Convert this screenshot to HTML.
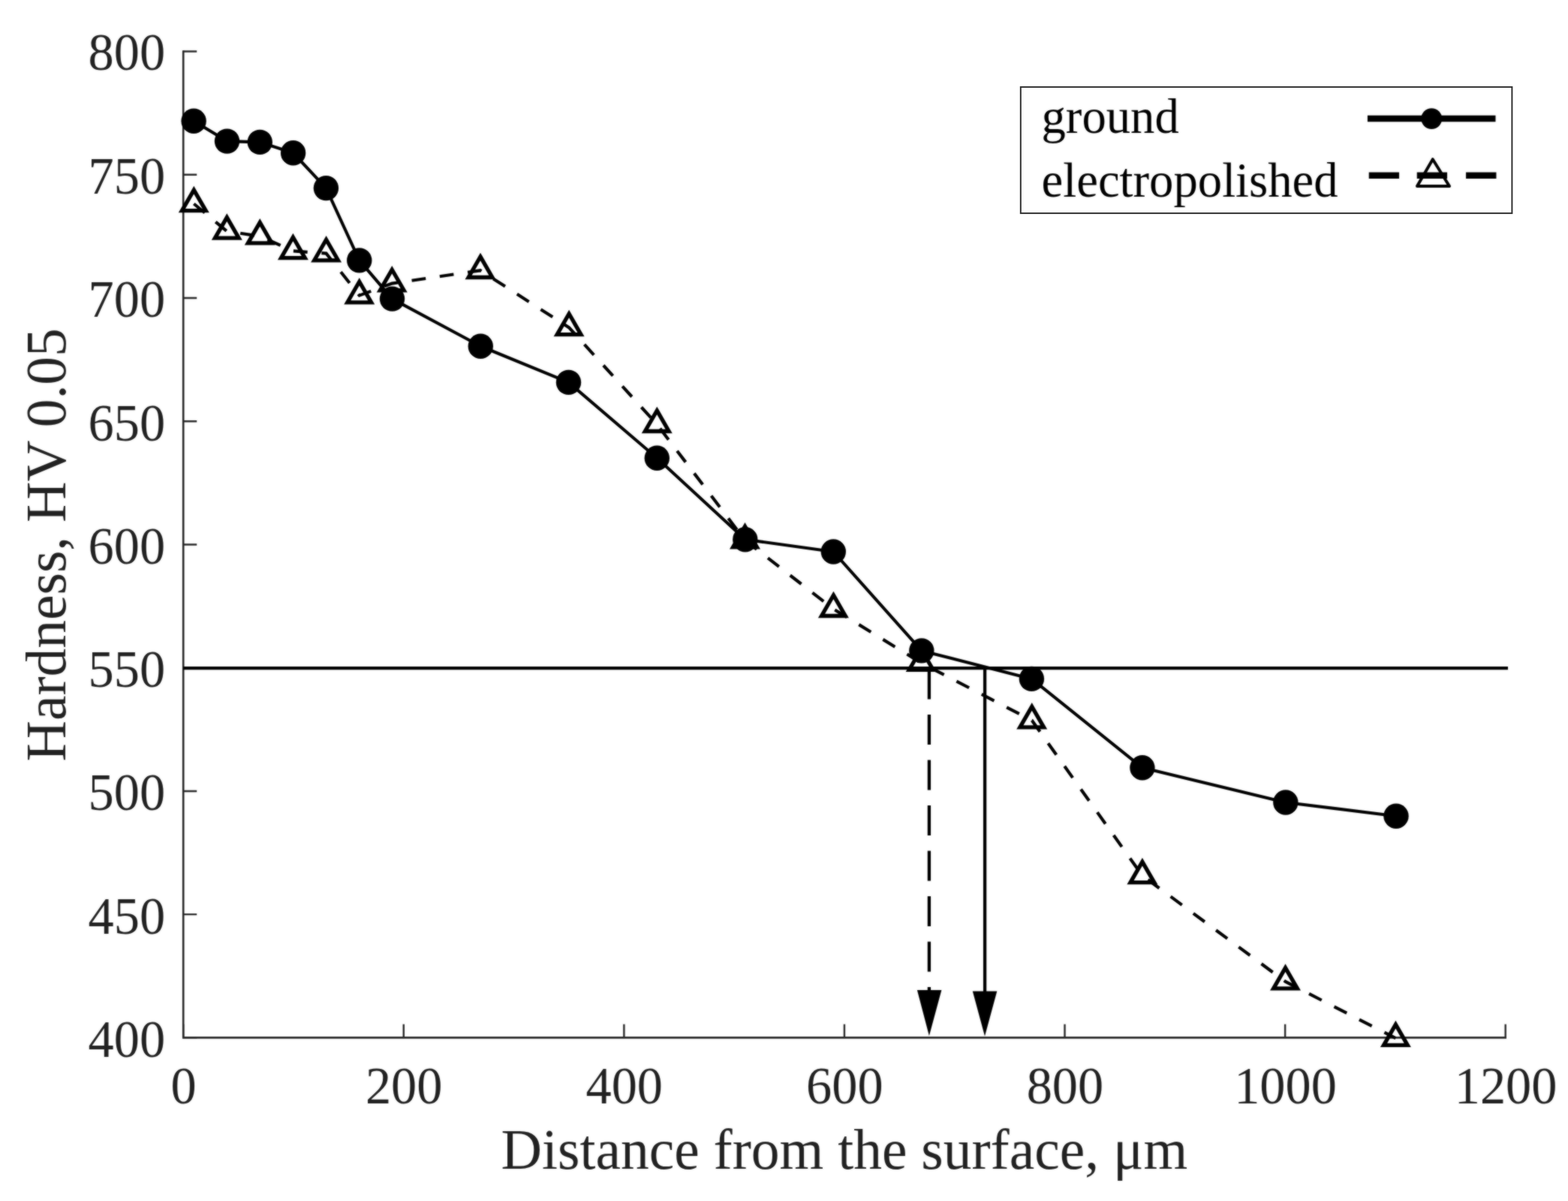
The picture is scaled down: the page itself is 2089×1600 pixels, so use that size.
<!DOCTYPE html>
<html lang="en"><head><meta charset="utf-8"><title>Hardness profile</title>
<style>html,body{margin:0;padding:0;background:#fff}body{width:2089px;height:1600px;overflow:hidden}svg{display:block}text{font-family:"Liberation Serif","Times New Roman",serif;fill:#212121}.tk{font-size:68.4px}.lb{font-size:75.5px}.lg{font-size:64.7px;fill:#000}</style></head><body>
<svg width="2089" height="1600" viewBox="0 0 2089 1600" role="img" aria-label="Hardness versus distance from the surface">
<defs><filter id="soft" x="0" y="0" width="2089" height="1600" filterUnits="userSpaceOnUse" color-interpolation-filters="sRGB"><feGaussianBlur in="SourceGraphic" stdDeviation="1" result="b"/><feComposite in="SourceGraphic" in2="b" operator="arithmetic" k1="0" k2="0.45" k3="0.55" k4="0"/></filter></defs>
<rect width="2089" height="1600" fill="#fff"/>
<g filter="url(#soft)">
<rect width="2089" height="1600" fill="#fff"/>
<g fill="none" stroke="#262626" stroke-width="2.6" stroke-linecap="butt">
<path d="M244.2 67.2 V1382.4 H2007"/>
</g><g fill="none" stroke="#262626" stroke-width="2.4">
<path d="M244.2 1382.4h18M244.2 1218.16h18M244.2 1053.93h18M244.2 889.69h18M244.2 725.45h18M244.2 561.21h18M244.2 396.98h18M244.2 232.74h18M244.2 68.5h18M244.2 1382.4v-18M537.78 1382.4v-18M831.37 1382.4v-18M1124.95 1382.4v-18M1418.53 1382.4v-18M1712.12 1382.4v-18M2005.7 1382.4v-18"/>
</g>
<g class="tk" text-anchor="end">
<text transform="translate(220.2 1408) scale(1 1.033)">400</text>
<text transform="translate(220.2 1244) scale(1 1.033)">450</text>
<text transform="translate(220.2 1079) scale(1 1.033)">500</text>
<text transform="translate(220.2 915) scale(1 1.033)">550</text>
<text transform="translate(220.2 751) scale(1 1.033)">600</text>
<text transform="translate(220.2 587) scale(1 1.033)">650</text>
<text transform="translate(220.2 422) scale(1 1.033)">700</text>
<text transform="translate(220.2 258) scale(1 1.033)">750</text>
<text transform="translate(220.2 93) scale(1 1.033)">800</text>
</g><g class="tk" text-anchor="middle">
<text transform="translate(244.6 1470) scale(1 1.033)">0</text>
<text transform="translate(538.18 1470) scale(1 1.033)">200</text>
<text transform="translate(831.77 1470) scale(1 1.033)">400</text>
<text transform="translate(1125.35 1470) scale(1 1.033)">600</text>
<text transform="translate(1418.93 1470) scale(1 1.033)">800</text>
<text transform="translate(1712.52 1470) scale(1 1.033)">1000</text>
<text transform="translate(2006.1 1470) scale(1 1.033)">1200</text>
</g>
<text class="lb" text-anchor="middle" x="1124.9" y="1556.5">Distance from the surface, μm</text>
<text class="lb" text-anchor="middle" transform="translate(87.1 725.9) rotate(-90)">Hardness, HV 0.05</text>
<g stroke="#000" stroke-width="4.3" fill="none">
<path d="M244.2 890.1H2009"/>
<path d="M1312.1 890V1325"/>
<path d="M1237.9 891.5V1322" stroke-dasharray="40 20.5"/>
</g>
<path d="M1221.9 1319h32.5L1237.9 1380z M1295.8 1320.6h32.5L1312 1380.6z" fill="#000"/>
<polyline fill="none" stroke="#000" stroke-width="4.2" stroke-dasharray="18.8 18.82" points="258.3,271.5 302.3,308 346.25,314.7 390.4,334.4 434.6,337.6 478.75,393.6 522.25,377.6 640,360.3 758.1,436.4 875.25,565.3 992.5,719.7 1110.4,811.3 1227.2,883.1 1374.75,959.7 1521.9,1166.5 1712.5,1307.7 1859.4,1383.2"/>
<g fill="none" stroke="#000" stroke-width="5.3" stroke-linejoin="miter" stroke-miterlimit="10">
<path d="M258.3 253.14L274.2 280.68H242.4Z"/>
<path d="M302.3 289.64L318.2 317.18H286.4Z"/>
<path d="M346.25 296.34L362.15 323.88H330.35Z"/>
<path d="M390.4 316.04L406.3 343.58H374.5Z"/>
<path d="M434.6 319.24L450.5 346.78H418.7Z"/>
<path d="M478.75 375.24L494.65 402.78H462.85Z"/>
<path d="M522.25 359.24L538.15 386.78H506.35Z"/>
<path d="M640 341.94L655.9 369.48H624.1Z"/>
<path d="M758.1 418.04L774 445.58H742.2Z"/>
<path d="M875.25 546.94L891.15 574.48H859.35Z"/>
<path d="M992.5 701.34L1008.4 728.88H976.6Z"/>
<path d="M1110.4 792.94L1126.3 820.48H1094.5Z"/>
<path d="M1227.2 864.74L1243.1 892.28H1211.3Z"/>
<path d="M1374.75 941.34L1390.65 968.88H1358.85Z"/>
<path d="M1521.9 1148.14L1537.8 1175.68H1506Z"/>
<path d="M1712.5 1289.34L1728.4 1316.88H1696.6Z"/>
<path d="M1859.4 1364.84L1875.3 1392.38H1843.5Z"/>
</g>
<polyline fill="none" stroke="#000" stroke-width="4.1" stroke-linejoin="round" points="258.1,161.25 302.5,188.1 346.25,189.4 390.6,203.75 434.4,250.6 478.75,346.9 522.5,398.1 640.3,461.25 757.5,509.4 875.3,610.3 992.8,718.75 1110.3,735 1227.8,866.9 1374.4,904.4 1521.9,1022.8 1712.8,1069 1860,1087.2"/>
<g fill="#000">
<circle cx="258.1" cy="161.25" r="16.7"/>
<circle cx="302.5" cy="188.1" r="16.7"/>
<circle cx="346.25" cy="189.4" r="16.7"/>
<circle cx="390.6" cy="203.75" r="16.7"/>
<circle cx="434.4" cy="250.6" r="16.7"/>
<circle cx="478.75" cy="346.9" r="16.7"/>
<circle cx="522.5" cy="398.1" r="16.7"/>
<circle cx="640.3" cy="461.25" r="16.7"/>
<circle cx="757.5" cy="509.4" r="16.7"/>
<circle cx="875.3" cy="610.3" r="16.7"/>
<circle cx="992.8" cy="718.75" r="16.7"/>
<circle cx="1110.3" cy="735" r="16.7"/>
<circle cx="1227.8" cy="866.9" r="16.7"/>
<circle cx="1374.4" cy="904.4" r="16.7"/>
<circle cx="1521.9" cy="1022.8" r="16.7"/>
<circle cx="1712.8" cy="1069" r="16.7"/>
<circle cx="1860" cy="1087.2" r="16.7"/>
</g>
<rect x="1359.8" y="115.9" width="654.6" height="168.2" fill="#fff"/>
<text class="lg" x="1387.5" y="177.1">ground</text>
<text class="lg" x="1387.5" y="262">electropolished</text>
<g stroke="#000" fill="none">
<path d="M1821.9 158.1H1992.5" stroke-width="8.5"/>
<path d="M1823.75 233.75h40.3m23.7 0h40.3m25 0h40.4" stroke-width="8.5"/>
<path d="M1908.8 212.2L1931 248H1888Z" stroke-width="4" stroke-linejoin="round"/>
</g>
<circle cx="1907.25" cy="158.1" r="13.9" fill="#000"/>
</g>
<rect x="1359.8" y="115.9" width="654.6" height="168.2" fill="none" stroke="#333" stroke-width="2"/>
</svg></body></html>
